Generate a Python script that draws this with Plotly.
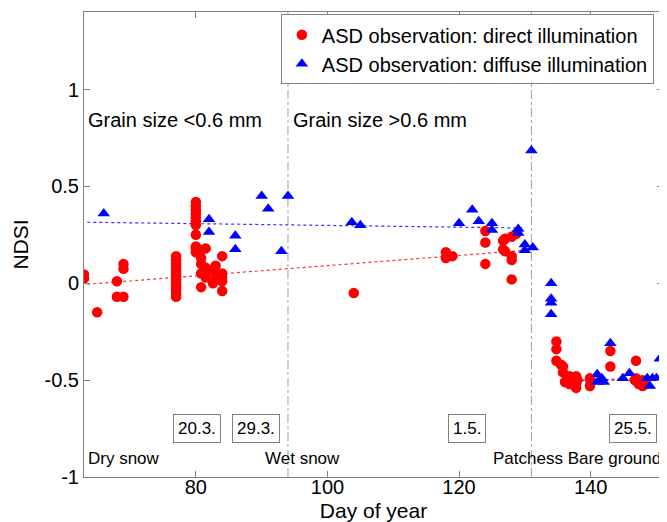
import plotly.graph_objects as go

# ---------------- data ----------------
direct_x = [63, 63, 65, 68, 68, 69, 69, 69,
            77, 77, 77, 77, 77, 77, 77, 77, 77, 77, 77, 77, 77, 77,
            80, 80, 80, 80, 80, 80, 80, 80, 80, 80, 80,
            80.8, 80.8, 80.8, 80.8, 80.8,
            81.5, 81.5, 81.5, 81.5,
            82.6, 82.6, 83, 83,
            84, 84, 84, 84, 84,
            104,
            118, 118, 119,
            124, 124, 124,
            126.7, 126.7, 127, 127, 128, 128, 128, 128, 128.7,
            134.8, 134.8, 134.8, 135.5, 135.8, 135.8, 136.1, 136.8, 136.8,
            137.8, 137.8, 137.8, 138, 139.9, 139.9, 140,
            143, 143, 146.9, 146.9, 146.7, 147.3, 147.9, 147.9, 148.3]
direct_y = [0.045, 0.025, -0.15, 0.01, -0.07, -0.07, 0.10, 0.075,
            0.14, 0.12, 0.10, 0.08, 0.065, 0.05, 0.035, 0.02, 0.005, -0.01, -0.025, -0.04, -0.055, -0.07,
            0.42, 0.40, 0.38, 0.36, 0.34, 0.32, 0.30, 0.25, 0.19, 0.18, 0.16,
            0.17, 0.13, 0.10, 0.05, -0.02,
            0.18, 0.08, 0.06, 0.03,
            0.07, 0.0, 0.09, 0.04,
            0.14, 0.05, 0.03, 0.01, -0.04,
            -0.05,
            0.16, 0.13, 0.14,
            0.27, 0.21, 0.10,
            0.22, 0.175, 0.23, 0.165, 0.24, 0.14, 0.12, 0.02, 0.255,
            -0.30, -0.34, -0.40, -0.42, -0.43, -0.46, -0.51, -0.48, -0.52,
            -0.48, -0.52, -0.54, -0.50, -0.49, -0.53, -0.51,
            -0.35, -0.43, -0.40, -0.49, -0.50, -0.52, -0.50, -0.53, -0.52]

diffuse_x = [66, 82, 82, 86, 86, 90, 91, 93, 94,
             103.7, 105,
             120, 122, 123, 125, 125, 129, 129, 130, 130, 131.2, 131,
             134, 134, 134, 134,
             143, 141, 141, 141.7, 142, 144.9, 145.9, 148.6, 149, 149.4, 150, 150.5, 151]
diffuse_y = [0.36, 0.33, 0.265, 0.245, 0.175, 0.45, 0.385, 0.165, 0.45,
             0.315, 0.30,
             0.31, 0.38, 0.32, 0.31, 0.275, 0.28, 0.26, 0.20, 0.17, 0.185, 0.685,
             0.0, -0.08, -0.10, -0.16,
             -0.31, -0.47, -0.51, -0.49, -0.51, -0.49, -0.465, -0.49, -0.53, -0.49, -0.49, -0.39, -0.48]

# trend lines (end points)
trend1_x = [63.5, 130]
direct_trend1_y = [-0.005, 0.17]
diffuse_trend1_y = [0.315, 0.285]
trend2_x = [136.8, 151]
direct_trend2_y = [-0.50, -0.50]
diffuse_trend2_y = [-0.505, -0.485]

phase_bounds = [94, 131]

date_labels = ["20.3.", "29.3.", "1.5.", "25.5."]
date_x = [80.2, 89.2, 121.2, 146.5]
date_y = -0.75

phase_labels = ["Dry snow", "Wet snow", "Patchess Bare ground"]
phase_x = [63.25, 90.2, 124.9]
phase_y = -0.905

grain_labels = ["Grain size <0.6 mm", "Grain size >0.6 mm"]
grain_x = [63.3, 94.4]
grain_y = 0.845

xticks = [80, 100, 120, 140]
yticks = [-1, -0.5, 0, 0.5, 1]
yticklabels = ["-1", "-0.5", "0", "0.5", "1"]

FONT = "Liberation Sans, Arial, sans-serif"
AXC = "#808080"

fig = go.Figure()

fig.add_trace(go.Scatter(x=trend1_x, y=direct_trend1_y, mode="lines",
                         line=dict(color="#ff3030", width=1.2, dash="dot"), showlegend=False))
fig.add_trace(go.Scatter(x=trend1_x, y=diffuse_trend1_y, mode="lines",
                         line=dict(color="#3030ff", width=1.2, dash="dot"), showlegend=False))
fig.add_trace(go.Scatter(x=trend2_x, y=direct_trend2_y, mode="lines",
                         line=dict(color="#ff3030", width=1.2, dash="dot"), showlegend=False))
fig.add_trace(go.Scatter(x=trend2_x, y=diffuse_trend2_y, mode="lines",
                         line=dict(color="#3030ff", width=1.2, dash="dot"), showlegend=False))

fig.add_trace(go.Scatter(x=direct_x, y=direct_y, mode="markers",
                         name="ASD observation: direct illumination",
                         marker=dict(symbol="circle", size=10.5, color="#ff0000", line=dict(width=0))))
fig.add_trace(go.Scatter(x=diffuse_x, y=diffuse_y, mode="markers",
                         name="ASD observation: diffuse illumination",
                         marker=dict(symbol="triangle-up", size=11, color="#0000ff", line=dict(width=0))))

for xb in phase_bounds:
    fig.add_shape(type="line", xref="x", yref="paper", x0=xb, x1=xb, y0=0, y1=1,
                  line=dict(color="#a0a0a0", width=1, dash="dashdot"), layer="below")

for t, xv in zip(date_labels, date_x):
    fig.add_annotation(x=xv, y=date_y, xref="x", yref="y", text=t, showarrow=False,
                       font=dict(family=FONT, size=17, color="black"),
                       bordercolor="#808080", borderwidth=1, borderpad=4, bgcolor="white")

for t, xv in zip(phase_labels, phase_x):
    fig.add_annotation(x=xv, y=phase_y, xref="x", yref="y", text=t, showarrow=False,
                       xanchor="left", font=dict(family=FONT, size=17, color="black"))

for t, xv in zip(grain_labels, grain_x):
    fig.add_annotation(x=xv, y=grain_y, xref="x", yref="y", text=t, showarrow=False,
                       xanchor="left", font=dict(family=FONT, size=20, color="black"))

# the page adds an 8px body margin, so the figure is sized to the visible area
fig.update_layout(
    width=659, height=514,
    margin=dict(l=76, r=4, t=4, b=45, autoexpand=False),
    paper_bgcolor="white", plot_bgcolor="white",
    font=dict(family=FONT, size=20, color="black"),
    showlegend=True,
    legend=dict(x=0.34, xanchor="left", y=0.995, yanchor="top",
                bordercolor="#808080", borderwidth=1, bgcolor="white",
                font=dict(family=FONT, size=20, color="black"),
                tracegroupgap=0, itemwidth=30),
    xaxis=dict(range=[63, 151], tickmode="array", tickvals=xticks, automargin=False,
               ticks="inside", ticklen=6, tickcolor=AXC, showline=True, linecolor=AXC,
               linewidth=1, mirror="ticks", showgrid=False, zeroline=False,
               tickfont=dict(size=20), ticklabelstandoff=-8,
               title=dict(text="Day of year", font=dict(size=21), standoff=12)),
    yaxis=dict(range=[-1, 1.4], tickmode="array", tickvals=yticks, ticktext=yticklabels,
               automargin=False,
               ticks="inside", ticklen=6, tickcolor=AXC, showline=True, linecolor=AXC,
               linewidth=1, mirror="ticks", showgrid=False, zeroline=False,
               tickfont=dict(size=20),
               title=dict(text="NDSI", font=dict(size=21), standoff=10)),
)

fig.write_html("out.html")
